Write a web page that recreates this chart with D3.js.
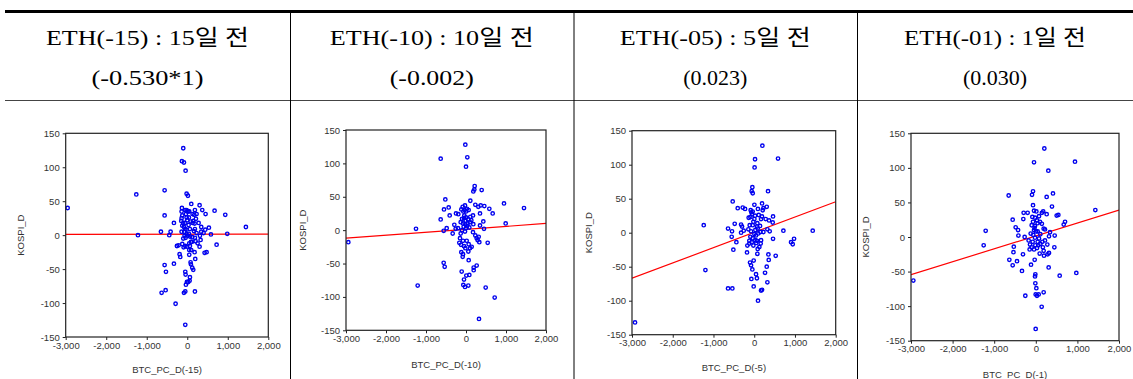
<!DOCTYPE html>
<html>
<head>
<meta charset="utf-8">
<script src="https://cdn.jsdelivr.net/npm/d3@7"></script>
<style>
  body { margin: 0; background: #fff; }
  svg { display: block; }
  .tick text { font-family: "Liberation Sans", Arial, sans-serif; font-size: 9.5px; fill: #333; }
  .tick line { stroke: #222; }
  .axis-title { font-family: "Liberation Sans", Arial, sans-serif; font-size: 9.5px; fill: #333; }
  .head { font-family: "Liberation Serif", "Noto Sans CJK KR", serif; font-size: 22px; fill: #000; }
</style>
</head>
<body>
<svg id="chart" width="1133" height="379"></svg>
<script>
// header texts
const headerTitles = ['ETH(-15) : 15일 전', 'ETH(-10) : 10일 전', 'ETH(-05) : 5일 전', 'ETH(-01) : 1일 전'];
const headerStats = ['(-0.530*1)', '(-0.002)', '(0.023)', '(0.030)'];
const xAxisTitles = ['BTC_PC_D(-15)', 'BTC_PC_D(-10)', 'BTC_PC_D(-5)', 'BTC_PC_D(-1)'];
const yAxisTitle = 'KOSPI_D';
const xTickValues = [-3000, -2000, -1000, 0, 1000, 2000];
const yTickValues = [-150, -100, -50, 0, 50, 100, 150];

// fitted line: y at x = -3000 and x = 2000
const fitLines = [[1, 1.5], [-12, 10], [-67, 45.5], [-54.5, 39]];

const pointsEth15 = [
  [-2952,40],[-1258,60],[-1217,0],[-559,66],[-559,29],[-650,5],[-444,0],[-411,5],[-329,18],[-559,-44],
  [-526,-54],[-534,-81],[-633,-85],[-329,-42],[-288,-101],[-255,-16],[-214,-15],[-189,-28],[-173,-32],[-99,128],
  [-132,109],[-82,107],[-41,95],[-16,61],[16,58],[-49,-132],[-82,-85],[-49,-83],[189,-83],[-49,-54],
  [-41,-58],[-33,-73],[-8,-69],[25,-69],[58,-67],[66,-62],[82,-40],[90,-43],[123,-48],[148,-51],
  [197,-35],[49,-29],[181,-25],[428,-26],[477,-25],[724,-14],[304,-17],[255,-12],[329,-7],[99,46],
  [304,44],[370,37],[674,36],[938,30],[1447,12],[987,2],[452,31],[534,11],[584,1],[444,8],
  [403,3],[345,5],[345,12],[214,24],[280,18],[189,37],[230,31],[132,31],[-132,40],[-140,35],
  [-123,29],[-140,25],[-148,21],[-99,18],[-123,14],[-49,37],[-16,37],[25,35],[-33,31],[41,26],
  [0,22],[-49,18],[-82,12],[-49,9],[33,15],[66,9],[132,18],[181,17],[189,9],[164,6],
  [230,3],[41,2],[-16,1],[-74,5],[-140,5],[-66,-1],[-41,-4],[16,-1],[66,-2],[123,-3],
  [189,-4],[90,-10],[-123,-13],[-90,-18],[-49,-16],[-8,-17],[49,-12],[49,-22],[99,-22],[206,-9],
  [313,-1],[0,35],[49,35],[173,30],[82,20],[148,21],[-16,26],[-16,8],[-99,-5],[66,-16],[115,-10]
];

const pointsEth10 = [
  [-2942,-18],[-1250,2],[-1208,-83],[-633,107],[-17,128],[33,109],[0,95],[-633,16],[-550,31],[-517,46],
  [-433,34],[-408,22],[-483,3],[-558,-1],[-333,-5],[-558,-49],[-533,-55],[217,66],[208,61],[183,58],
  [392,60],[108,44],[233,38],[308,35],[367,37],[458,36],[583,32],[667,25],[350,25],[950,40],
  [1450,33],[992,10],[433,13],[350,7],[450,2],[333,-18],[542,-19],[317,-10],[267,-12],[292,-15],
  [233,-8],[175,-3],[183,9],[133,15],[175,22],[142,-25],[100,-27],[58,-32],[67,-45],[267,-53],
  [192,-56],[192,-60],[83,-67],[8,-68],[-50,-74],[-108,-62],[-67,-82],[-25,-85],[58,-83],[492,-86],
  [717,-101],[325,-133],[-83,-40],[-117,-33],[-75,-36],[-50,-24],[-17,-27],[-167,-19],[-125,-22],[-150,-12],
  [-75,-16],[17,-16],[67,-21],[-250,25],[-192,24],[-292,8],[-200,3],[-258,2],[-117,31],[-83,35],
  [-25,37],[25,32],[0,28],[-67,28],[-100,17],[-50,18],[0,19],[50,16],[-133,12],[-75,10],
  [-17,9],[42,10],[-58,5],[0,3],[83,4],[108,20],[-100,0],[-133,-5],[-25,-2],[-33,30],
  [67,30],[-8,14],[25,6],[-42,22],[100,12]
];

const pointsEth05 = [
  [-2926,-132],[-1239,11],[-1198,-55],[-643,-82],[-537,-82],[-512,-25],[-553,-6],[-545,2],[-643,6],[-528,46],
  [-405,36],[-479,13],[-438,-14],[-323,12],[-299,9],[-282,37],[-225,35],[-258,3],[-323,0],[-177,-29],
  [-103,-44],[-78,-48],[-46,-54],[-70,-68],[-13,-41],[-13,-79],[44,-61],[66,-67],[93,-100],[167,-85],
  [192,-84],[266,-59],[307,-50],[323,-73],[356,-40],[348,-32],[527,-34],[77,-31],[-62,61],[-37,58],
  [-46,67],[20,108],[9,96],[200,128],[584,109],[339,61],[4,41],[192,43],[225,36],[307,38],
  [208,33],[91,35],[-87,33],[-37,31],[-54,27],[-95,23],[-136,22],[4,20],[167,20],[282,20],
  [364,18],[462,24],[454,15],[323,5],[380,2],[716,3],[1436,3],[978,-9],[945,-17],[904,-14],
  [462,-9],[167,-11],[159,-16],[126,-21],[85,-24],[-21,-19],[-62,-14],[-120,-16],[-168,-19],[-37,-8],
  [44,-4],[99,-1],[151,1],[225,1],[85,6],[28,4],[-37,11],[-111,11],[77,14],[143,10],
  [70,9],[-21,16],[-78,2],[-144,5],[4,-2],[-95,-6],[70,-12],[28,-11],[-70,30],[20,25],
  [110,26],[-120,-12],[50,-15],[190,24]
];

const pointsEth01 = [
  [-2944,-63],[-1253,-12],[-1205,9],[-652,60],[-556,25],[-636,-33],[-556,-41],[-529,-14],[-537,-22],[-484,14],
  [-426,10],[-418,2],[-452,-35],[-332,-49],[-308,-25],[-300,26],[-292,35],[-196,35],[-252,-85],[-268,0],
  [-172,-5],[-148,-18],[-115,-40],[-67,46],[-67,66],[-91,61],[-43,108],[205,128],[301,96],[942,109],
  [261,58],[413,63],[389,44],[-43,38],[13,37],[178,37],[146,35],[261,33],[502,31],[542,32],
  [703,22],[671,18],[1431,39],[454,2],[446,-15],[317,1],[341,7],[317,-23],[285,-25],[197,-27],
  [309,-44],[189,-20],[93,-24],[-27,-33],[-11,-54],[-19,-57],[-11,-67],[13,-74],[-3,-83],[69,-83],
  [29,-85],[189,-80],[141,-101],[574,-56],[974,-52],[-3,-133],[-67,22],[-99,17],[-19,16],[45,20],
  [-43,10],[-123,5],[45,8],[146,19],[189,12],[221,11],[109,4],[-19,-1],[-75,-7],[-140,-11],
  [-99,-15],[-43,-18],[29,-16],[109,-10],[157,-7],[221,-5],[45,-7],[61,-12],[-11,-12],[-83,29],
  [-19,28],[29,24],[77,30],[5,8],[77,-2],[277,-11],[-30,13],[100,22],[-60,3],[170,-15]
];

const pointSets = [pointsEth15, pointsEth10, pointsEth05, pointsEth01];

// layout of the table and the four plot boxes
const colEdges = [5, 290, 573.5, 857, 1133];
const titleWidths = [203, 204, 191, 182];
const statWidths = [112, 84, null, null];
const panels = [
  { left: 65.7, right: 268.3, top: 133.3, bottom: 337,   yTitleX: 21.7,  xTitleY: 370 },
  { left: 346,  right: 546,   top: 130,   bottom: 330.3, yTitleX: 303.3, xTitleY: 365 },
  { left: 632,  right: 835.7, top: 130.7, bottom: 334.7, yTitleX: 589,   xTitleY: 368 },
  { left: 911,  right: 1119,  top: 133.3, bottom: 340.7, yTitleX: 866,   xTitleY: 375 }
];

const svg = d3.select('#chart');
const fmt = d3.formatLocale({ decimal: '.', thousands: ',', grouping: [3], currency: ['', ''], minus: '-' }).format(',');

// table rules
svg.append('line').attr('x1', 5).attr('x2', 1133).attr('y1', 11.5).attr('y2', 11.5)
  .attr('stroke', '#000').attr('stroke-width', 3);
svg.append('line').attr('x1', 5).attr('x2', 1133).attr('y1', 100.5).attr('y2', 100.5)
  .attr('stroke', '#444').attr('stroke-width', 1);
colEdges.slice(1, 4).forEach(x => {
  svg.append('line').attr('x1', x + 0.5).attr('x2', x + 0.5).attr('y1', 13).attr('y2', 379)
    .attr('stroke', '#000').attr('stroke-width', 1);
});

headerTitles.forEach((t, i) => {
  const cx = (colEdges[i] + colEdges[i + 1]) / 2;
  svg.append('text').attr('class', 'head').attr('x', cx).attr('y', 45)
    .attr('text-anchor', 'middle')
    .attr('textLength', titleWidths[i]).attr('lengthAdjust', 'spacingAndGlyphs')
    .text(t);
  const stat = svg.append('text').attr('class', 'head').attr('x', cx).attr('y', 85)
    .attr('text-anchor', 'middle')
    .text(headerStats[i]);
  if (statWidths[i]) {
    stat.attr('textLength', statWidths[i]).attr('lengthAdjust', 'spacingAndGlyphs');
  }
});

panels.forEach((p, i) => {
  const x = d3.scaleLinear().domain([-3000, 2000]).range([p.left, p.right]);
  const y = d3.scaleLinear().domain([-150, 150]).range([p.bottom, p.top]);
  const g = svg.append('g');

  g.append('g')
    .attr('transform', `translate(0, ${p.bottom})`)
    .call(d3.axisBottom(x).tickValues(xTickValues).tickFormat(fmt).tickSize(3).tickSizeOuter(0).tickPadding(2))
    .call(a => a.select('.domain').remove());

  g.append('g')
    .attr('transform', `translate(${p.left}, 0)`)
    .call(d3.axisLeft(y).tickValues(yTickValues).tickFormat(fmt).tickSize(3).tickSizeOuter(0).tickPadding(3))
    .call(a => a.select('.domain').remove());

  const clipId = 'clip' + i;
  svg.append('clipPath').attr('id', clipId)
    .append('rect').attr('x', p.left).attr('y', p.top)
    .attr('width', p.right - p.left).attr('height', p.bottom - p.top);

  g.append('path')
    .datum([[-3000, fitLines[i][0]], [2000, fitLines[i][1]]])
    .attr('clip-path', `url(#${clipId})`)
    .attr('d', d3.line().x(d => x(d[0])).y(d => y(d[1])))
    .attr('stroke', '#ff0000').attr('stroke-width', 1.2).attr('fill', 'none');

  g.selectAll('circle')
    .data(pointSets[i])
    .enter()
    .append('circle')
    .attr('cx', d => x(d[0]))
    .attr('cy', d => y(d[1]))
    .attr('r', 1.7)
    .attr('fill', 'none')
    .attr('stroke', '#0000ee')
    .attr('stroke-width', 1.4);

  g.append('rect')
    .attr('x', p.left).attr('y', p.top)
    .attr('width', p.right - p.left).attr('height', p.bottom - p.top)
    .attr('fill', 'none').attr('stroke', '#222').attr('stroke-width', 1.2);

  g.append('text').attr('class', 'axis-title')
    .attr('x', (p.left + p.right) / 2).attr('y', p.xTitleY)
    .attr('text-anchor', 'middle').attr('dominant-baseline', 'middle')
    .text(xAxisTitles[i]);

  g.append('text').attr('class', 'axis-title')
    .attr('transform', `translate(${p.yTitleX}, ${(p.top + p.bottom) / 2}) rotate(-90)`)
    .attr('text-anchor', 'middle').attr('dominant-baseline', 'middle')
    .text(yAxisTitle);
});
</script>
</body>
</html>
